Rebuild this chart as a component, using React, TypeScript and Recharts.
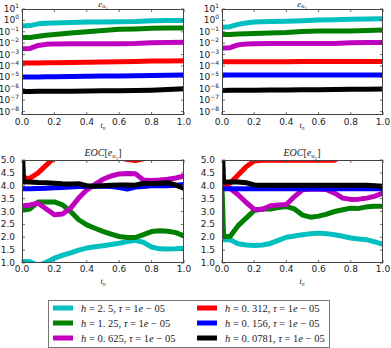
import React from 'react';
import { LineChart, Line, XAxis, YAxis } from 'recharts';

// ---------- data ----------
const tTop = [0, 0.05, 0.1, 0.15, 0.2, 0.3, 0.4, 0.5, 0.6, 0.7, 0.8, 0.9, 1.0];
const tEoc = [0, 0.01, 0.05, 0.1, 0.15, 0.2, 0.25, 0.3, 0.35, 0.4, 0.45, 0.5, 0.55, 0.6, 0.65, 0.7, 0.75, 0.8, 0.85, 0.9, 0.95, 1.0];

const eu1Cyan = [0.33, 0.35, 0.5, 0.56, 0.6, 0.66, 0.71, 0.74, 0.76, 0.79, 0.95, 1.0, 1.0];
const eu1Green = [3.2e-2, 3.2e-2, 4.0e-2, 5.0e-2, 5.9e-2, 7.9e-2, 1.0e-1, 1.3e-1, 1.7e-1, 1.8e-1, 2.0e-1, 2.1e-1, 2.2e-1];
const eu1Magenta = [3.3e-3, 3.5e-3, 6.3e-3, 7.9e-3, 8.7e-3, 9.1e-3, 9.1e-3, 9.1e-3, 9.1e-3, 9.5e-3, 1.12e-2, 1.17e-2, 1.2e-2];
const eu1Red = [1.8e-4, 1.8e-4, 1.85e-4, 1.9e-4, 1.95e-4, 2.0e-4, 2.1e-4, 2.2e-4, 2.3e-4, 2.5e-4, 2.7e-4, 2.8e-4, 2.9e-4];
const eu1Blue = [1.07e-5, 1.08e-5, 1.1e-5, 1.12e-5, 1.15e-5, 1.2e-5, 1.25e-5, 1.3e-5, 1.35e-5, 1.4e-5, 1.45e-5, 1.5e-5, 1.6e-5];
const eu1Black = [5.9e-7, 5.9e-7, 6.0e-7, 6.0e-7, 6.1e-7, 6.2e-7, 6.4e-7, 6.6e-7, 6.8e-7, 7.1e-7, 7.6e-7, 8.5e-7, 1.0e-6];

const eu2Cyan = [0.25, 0.28, 0.45, 0.6, 0.71, 0.79, 0.85, 0.93, 1.07, 1.15, 1.26, 1.35, 1.41];
const eu2Green = [5.9e-2, 5.9e-2, 6.3e-2, 6.8e-2, 7.2e-2, 7.9e-2, 8.5e-2, 1.05e-1, 1.17e-1, 1.17e-1, 1.2e-1, 1.32e-1, 1.45e-1];
const eu2Magenta = [3.7e-3, 4.0e-3, 7.1e-3, 8.5e-3, 9.1e-3, 9.5e-3, 9.5e-3, 9.5e-3, 9.5e-3, 9.6e-3, 1.12e-2, 1.15e-2, 1.15e-2];
const eu2Red = [2.4e-4, 2.4e-4, 2.4e-4, 2.4e-4, 2.4e-4, 2.4e-4, 2.4e-4, 2.42e-4, 2.42e-4, 2.43e-4, 2.44e-4, 2.45e-4, 2.45e-4];
const eu2Blue = [1.6e-5, 1.6e-5, 1.6e-5, 1.6e-5, 1.6e-5, 1.6e-5, 1.6e-5, 1.6e-5, 1.6e-5, 1.6e-5, 1.6e-5, 1.6e-5, 1.6e-5];
const eu2Black = [7.2e-7, 7.3e-7, 7.4e-7, 7.5e-7, 7.6e-7, 7.8e-7, 8.0e-7, 8.2e-7, 8.4e-7, 8.6e-7, 8.9e-7, 9.2e-7, 9.5e-7];

const eoc1Cyan = [1.06, 1.06, 1.05, 0.9, 1.03, 1.19, 1.3, 1.39, 1.5, 1.58, 1.63, 1.67, 1.72, 1.77, 1.83, 1.88, 1.8, 1.62, 1.55, 1.54, 1.55, 1.57];
const eoc1Green = [3.06, 3.06, 3.1, 3.37, 3.37, 3.37, 3.26, 3.0, 2.68, 2.48, 2.35, 2.23, 2.12, 2.03, 1.99, 1.99, 2.1, 2.22, 2.25, 2.23, 2.18, 2.05];
const eoc1Magenta = [3.22, 3.22, 3.25, 3.32, 3.1, 2.87, 2.9, 3.13, 3.52, 3.84, 4.05, 4.25, 4.38, 4.46, 4.48, 4.47, 4.22, 4.2, 4.22, 4.25, 4.3, 4.38];
const eoc1Red = [4.28, 4.28, 4.3, 4.5, 4.8, 5.1, 5.4, 5.6, 5.6, 5.5, 5.4, 5.3, 5.2, 5.1, 5.02, 4.98, 5.05, 5.2, 5.3, 5.4, 5.5, 5.6];
const eoc1Blue = [3.88, 3.88, 3.88, 3.89, 3.9, 3.92, 3.93, 3.95, 3.97, 3.97, 3.98, 3.98, 3.97, 3.93, 3.87, 3.95, 3.97, 4.0, 4.0, 4.0, 4.02, 4.05];
const eoc1Black = [5.8, 4.15, 4.15, 4.13, 4.12, 4.1, 4.08, 4.07, 4.08, 4.0, 3.98, 4.0, 4.02, 4.03, 4.03, 4.02, 4.1, 4.08, 4.1, 4.12, 4.02, 3.9];

const eoc2Cyan = [1.9, 1.9, 1.9, 1.75, 1.7, 1.68, 1.7, 1.76, 1.88, 2.0, 2.05, 2.1, 2.14, 2.16, 2.14, 2.1, 2.04, 1.97, 1.93, 1.9, 1.82, 1.72];
const eoc2Green = [3.95, 2.03, 2.03, 2.45, 2.74, 3.04, 3.1, 3.1, 3.15, 3.19, 3.1, 2.86, 2.78, 2.82, 2.9, 3.0, 3.07, 3.13, 3.12, 3.18, 3.2, 3.2];
const eoc2Magenta = [3.92, 3.92, 3.9, 3.65, 3.35, 3.08, 3.08, 3.22, 3.25, 3.27, 3.58, 3.84, 3.86, 3.86, 3.85, 3.71, 3.52, 3.47, 3.48, 3.52, 3.6, 3.71];
const eoc2Red = [4.0, 4.0, 4.1, 4.42, 4.74, 4.96, 4.99, 4.99, 4.99, 4.99, 4.99, 4.99, 4.99, 4.99, 4.99, 4.99, 5.2, 5.4, 5.5, 5.6, 5.6, 5.6];
const eoc2Blue = [3.88, 3.88, 3.88, 3.88, 3.88, 3.88, 3.88, 3.88, 3.88, 3.88, 3.88, 3.88, 3.88, 3.88, 3.88, 3.88, 3.88, 3.88, 3.88, 3.88, 3.88, 3.88];
const eoc2Black = [5.8, 4.15, 4.15, 4.15, 4.12, 4.03, 4.02, 4.02, 4.02, 4.02, 4.02, 4.02, 4.02, 4.02, 4.02, 4.02, 4.02, 4.02, 4.02, 4.02, 4.0, 3.98];

const xTicks = [0, 0.2, 0.4, 0.6, 0.8, 1.0];
const logTicks = [1e1, 1e0, 1e-1, 1e-2, 1e-3, 1e-4, 1e-5, 1e-6, 1e-7, 1e-8];
const eocTicks = [1.0, 1.5, 2.0, 2.5, 3.0, 3.5, 4.0, 4.5, 5.0];

const seriesColors = ['#00BFBF', '#008000', '#BF00BF', '#FF0000', '#0000FF', '#000000'];
const legendLabels = [
  ['2. 5', '1e − 05'],
  ['1. 25', '1e − 05'],
  ['0. 625', '1e − 05'],
  ['0. 312', '1e − 05'],
  ['0. 156', '1e − 05'],
  ['0. 0781', '1e − 05'],
];

const build = (t: number[], s: number[][]) =>
  t.map((tv, i) => {
    const row: any = { t: tv };
    s.forEach((arr, k) => (row['s' + k] = arr[i]));
    return row;
  });

const dataEu1 = build(tTop, [eu1Cyan, eu1Green, eu1Magenta, eu1Red, eu1Blue, eu1Black]);
const dataEu2 = build(tTop, [eu2Cyan, eu2Green, eu2Magenta, eu2Red, eu2Blue, eu2Black]);
const dataEoc1 = build(tEoc, [eoc1Cyan, eoc1Green, eoc1Magenta, eoc1Red, eoc1Blue, eoc1Black]);
const dataEoc2 = build(tEoc, [eoc2Cyan, eoc2Green, eoc2Magenta, eoc2Red, eoc2Blue, eoc2Black]);

const TICK_FONT = 'DejaVu Sans, sans-serif';
const MATH_FONT = 'Liberation Serif, serif';
const TXT = '#222';
const FRAME = '#444';

type Box = { x0: number; y0: number; x1: number; y1: number };

function Panel(props: {
  left: number; top: number; width: number; height: number; plot: Box;
  data: any[]; log: boolean;
}) {
  const { left, top, width, height, plot, data, log } = props;
  const pw = plot.x1 - plot.x0;
  const ph = plot.y1 - plot.y0;
  const XTick = (p: any) => {
    const { x, y, payload } = p;
    return (
      <g>
        <line x1={x} x2={x} y1={y} y2={y - 3} stroke={FRAME} strokeWidth={0.8} />
        <line x1={x} x2={x} y1={y - ph} y2={y - ph + 3} stroke={FRAME} strokeWidth={0.8} />
        <text x={x} y={y + (log ? 10 : 9)} textAnchor="middle" fontSize={9} fontFamily={TICK_FONT} fill={TXT}>
          {Number(payload.value).toFixed(1)}
        </text>
      </g>
    );
  };
  const YTick = (p: any) => {
    const { x, y, payload } = p;
    const v = Number(payload.value);
    const k = Math.round(Math.log10(v));
    return (
      <g>
        <line x1={x} x2={x + 3} y1={y} y2={y} stroke={FRAME} strokeWidth={0.8} />
        <line x1={x + pw} x2={x + pw - 3} y1={y} y2={y} stroke={FRAME} strokeWidth={0.8} />
        {log ? (
          <text x={x - 3} y={y + 3} textAnchor="end" fontSize={9} fontFamily={TICK_FONT} fill={TXT}>
            10
            <tspan fontSize={6} dy={-4}>
              {k < 0 ? '−' + Math.abs(k) : String(k)}
            </tspan>
          </text>
        ) : (
          <text x={x - 7} y={y + 3} textAnchor="end" fontSize={9} fontFamily={TICK_FONT} fill={TXT}>
            {v.toFixed(1)}
          </text>
        )}
      </g>
    );
  };
  return (
    <div style={{ position: 'absolute', left, top, width, height }}>
      <LineChart
        width={width}
        height={height}
        data={data}
        margin={{ top: plot.y0 - top, right: left + width - plot.x1, bottom: 0, left: 0 }}
      >
        <XAxis
          dataKey="t"
          type="number"
          domain={[0, 1]}
          ticks={xTicks}
          allowDataOverflow
          height={top + height - plot.y1}
          axisLine={false}
          tickLine={false}
          tickSize={0}
          tickMargin={0}
          tick={XTick}
          interval={0}
        />
        {log ? (
          <YAxis
            scale="log"
            type="number"
            domain={[5e-9, 10]}
            ticks={logTicks}
            allowDataOverflow
            width={plot.x0 - left}
            axisLine={false}
            tickLine={false}
            tickSize={0}
            tickMargin={0}
            tick={YTick}
            interval={0}
          />
        ) : (
          <YAxis
            type="number"
            domain={[1, 5]}
            ticks={eocTicks}
            allowDataOverflow
            width={plot.x0 - left}
            axisLine={false}
            tickLine={false}
            tickSize={0}
            tickMargin={0}
            tick={YTick}
            interval={0}
          />
        )}
        {seriesColors.map((c, k) => (
          <Line
            key={k}
            dataKey={'s' + k}
            type="linear"
            stroke={c}
            strokeWidth={5}
            strokeLinejoin="round"
            strokeLinecap="butt"
            dot={false}
            activeDot={false}
            isAnimationActive={false}
          />
        ))}
      </LineChart>
      <div
        style={{
          position: 'absolute',
          left: plot.x0 - left,
          top: plot.y0 - top,
          width: pw,
          height: ph,
          border: `1px solid ${FRAME}`,
          boxSizing: 'border-box',
          pointerEvents: 'none',
        }}
      />
    </div>
  );
}

const TL: Box = { x0: 22, y0: 9, x1: 184, y1: 115 };
const TR: Box = { x0: 222, y0: 9, x1: 383, y1: 115 };
const BL: Box = { x0: 22, y0: 160, x1: 184, y1: 263 };
const BR: Box = { x0: 222, y0: 160, x1: 383, y1: 263 };

function Sub({ x, y, size, label, sub, subsub, pre, post }: any) {
  return (
    <text x={x} y={y} textAnchor="middle" fontFamily={MATH_FONT} fontSize={size} fill={TXT}>
      {pre ? <tspan fontStyle="italic">{pre}</tspan> : null}
      {pre ? <tspan>[</tspan> : null}
      <tspan fontStyle="italic">{label}</tspan>
      <tspan fontStyle="italic" fontSize={size * 0.7} dy={size * 0.22}>{sub}</tspan>
      <tspan fontSize={size * 0.5} dy={size * 0.15}>{subsub}</tspan>
      {post ? <tspan dy={-size * 0.37}>{post}</tspan> : null}
    </text>
  );
}

export default function App() {
  const legendX = 48;
  const legendY = 300;
  return (
    <div style={{ position: 'absolute', left: 0, top: 0, width: 391, height: 348, background: '#fff' }}>
      <Panel left={0} top={0} width={200} height={140} plot={TL} data={dataEu1} log />
      <Panel left={200} top={0} width={191} height={140} plot={TR} data={dataEu2} log />
      <Panel left={0} top={140} width={200} height={150} plot={BL} data={dataEoc1} log={false} />
      <Panel left={200} top={140} width={191} height={150} plot={BR} data={dataEoc2} log={false} />
      <svg width={391} height={348} style={{ position: 'absolute', left: 0, top: 0, pointerEvents: 'none' }}>
        <Sub x={103} y={6.5} size={9} label="e" sub="u" subsub="1" />
        <Sub x={302} y={6.5} size={9} label="e" sub="u" subsub="2" />
        <Sub x={103} y={156} size={10} pre="EOC" label="e" sub="u" subsub="1" post="]" />
        <Sub x={302} y={156} size={10} pre="EOC" label="e" sub="u" subsub="2" post="]" />
        {[103, 302].map((cx) => (
          <g key={cx}>
            <text x={cx} y={128} textAnchor="middle" fontFamily={MATH_FONT} fontSize={8} fontStyle="italic" fill={TXT}>
              t<tspan fontSize={5.5} dy={1.5}>n</tspan>
            </text>
            <text x={cx} y={284} textAnchor="middle" fontFamily={MATH_FONT} fontSize={8} fontStyle="italic" fill={TXT}>
              t<tspan fontSize={5.5} dy={1.5}>n</tspan>
            </text>
          </g>
        ))}
        <rect x={legendX + 0.5} y={legendY + 0.5} width={281} height={47} fill="#fff" stroke="#777" strokeWidth={1} />
        {legendLabels.map((lab, i) => {
          const col = i < 3 ? 0 : 1;
          const row = i % 3;
          const sx = col === 0 ? 53 : 197;
          const tx = col === 0 ? 81 : 225;
          const cy = 308 + row * 15;
          return (
            <g key={i}>
              <line x1={sx} x2={sx + 20} y1={cy} y2={cy} stroke={seriesColors[i]} strokeWidth={5} />
              <text x={tx} y={cy + 3.5} fontFamily={MATH_FONT} fontSize={10.5} fill={TXT}>
                <tspan fontStyle="italic">h</tspan>
                <tspan>{' = ' + lab[0] + ', '}</tspan>
                <tspan fontStyle="italic">τ</tspan>
                <tspan>{' = 1'}</tspan>
                <tspan fontStyle="italic">e</tspan>
                <tspan>{' − 05'}</tspan>
              </text>
            </g>
          );
        })}
      </svg>
    </div>
  );
}
